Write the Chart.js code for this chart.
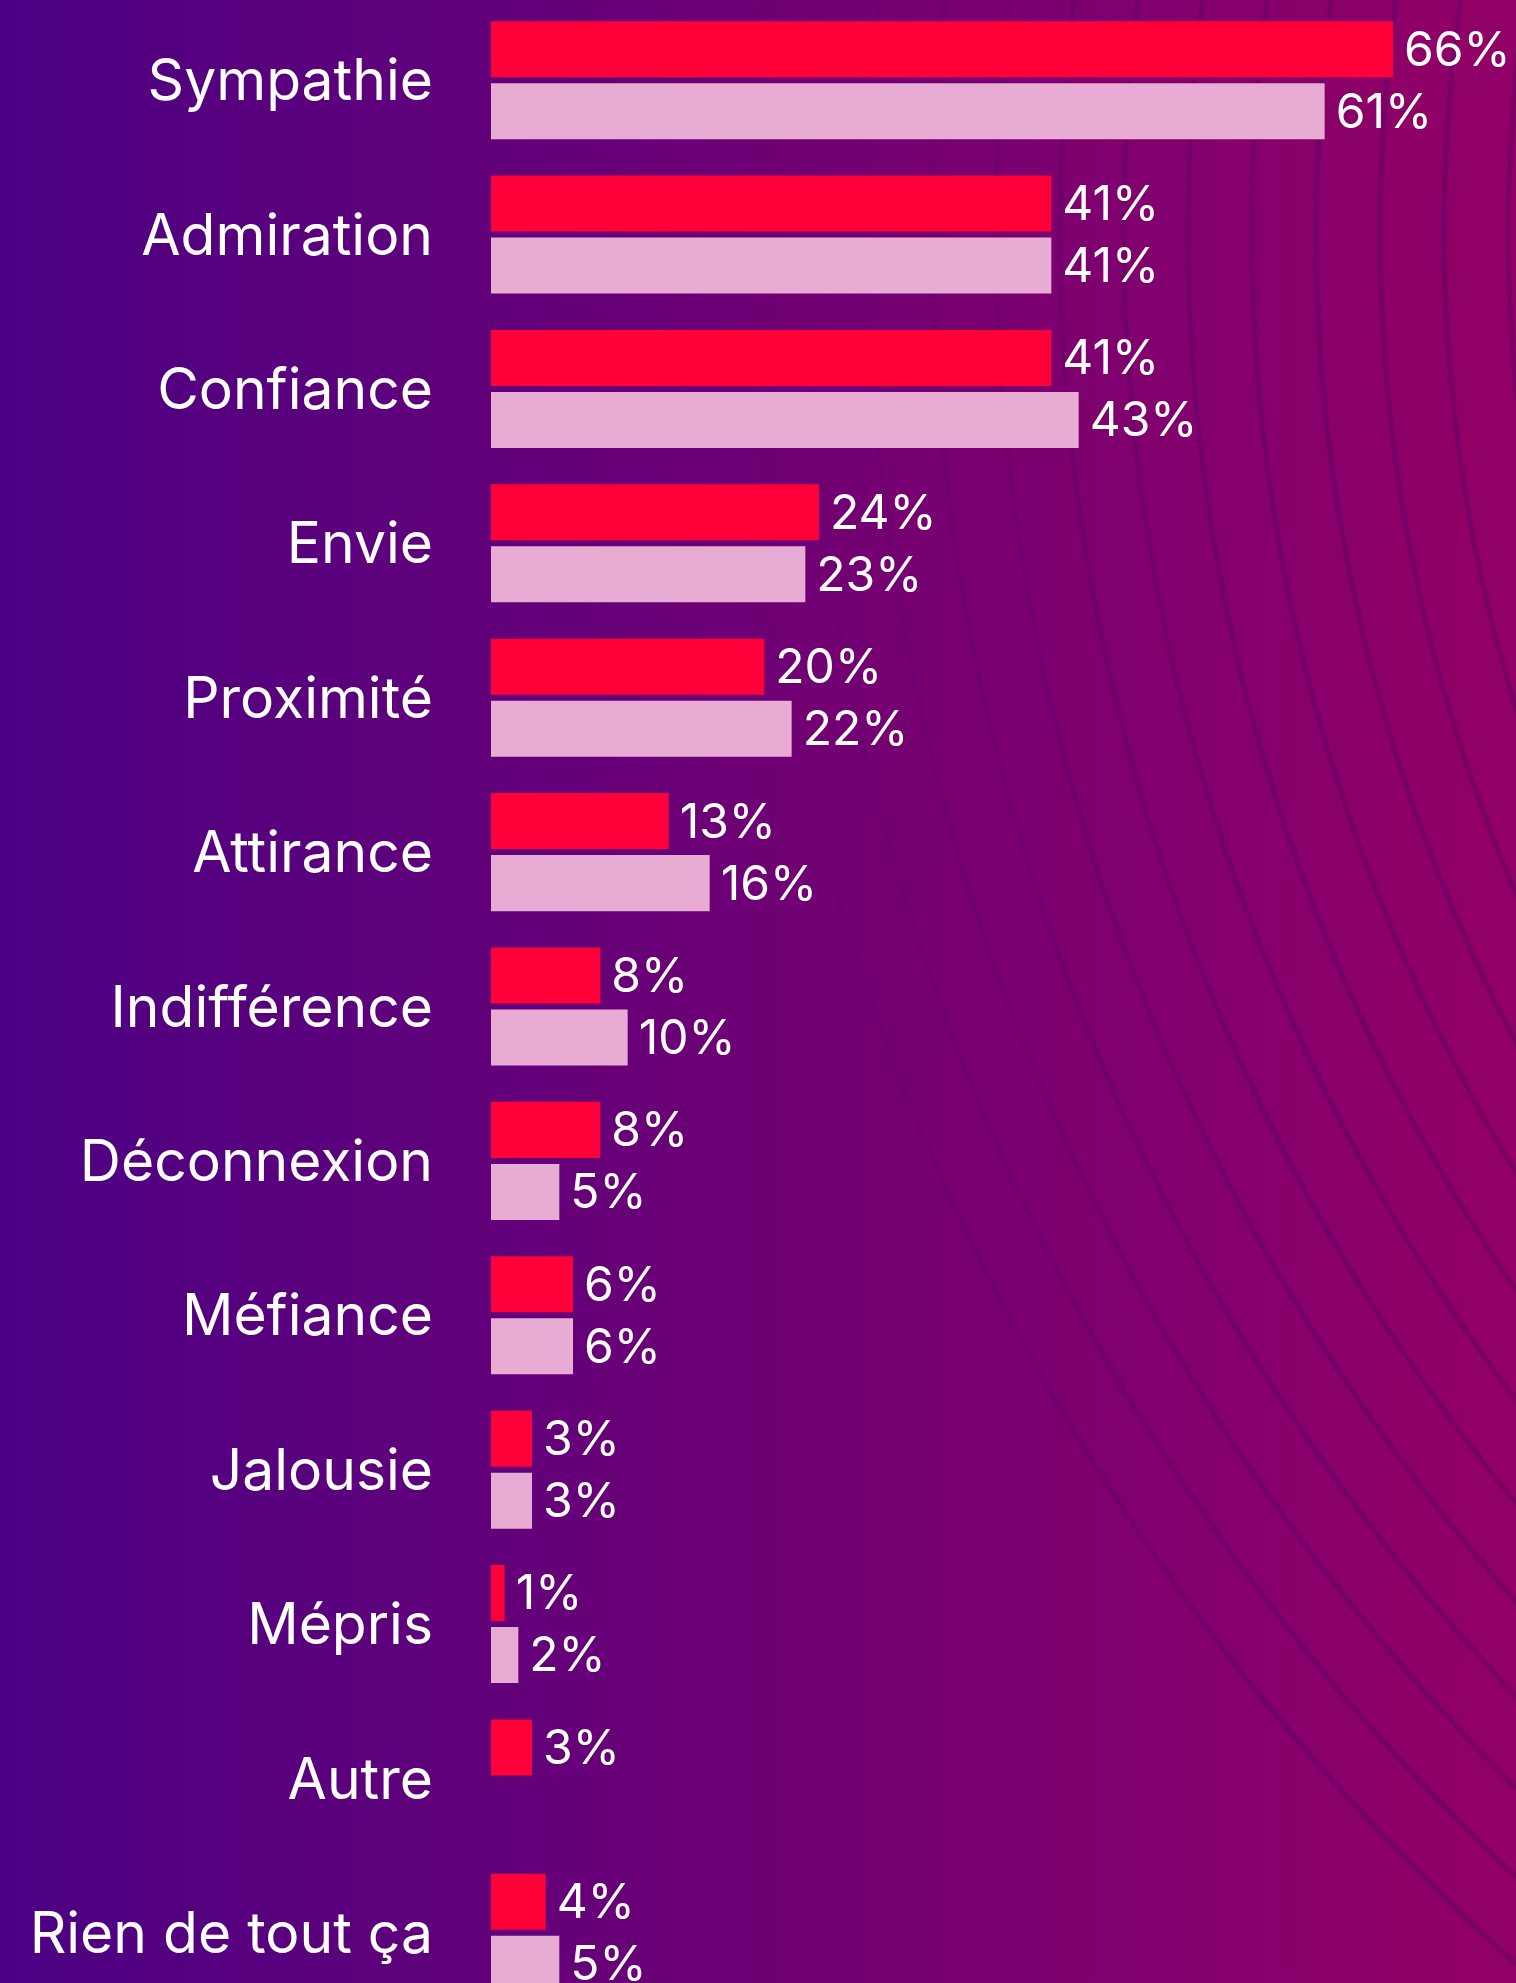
<!DOCTYPE html>
<html lang="fr">
<head>
<meta charset="utf-8">
<title>Sentiments</title>
<script src="https://cdn.jsdelivr.net/npm/chart.js@4/dist/chart.umd.min.js"></script>
<style>
  html, body { margin: 0; padding: 0; overflow: hidden; width: 1516px; height: 1983px;
    background: linear-gradient(90deg, #4b0083 0%, #920066 100%); }
  canvas { display: block; position: absolute; left: 0; top: 0; }
</style>
</head>
<body>
<canvas id="c" width="1516" height="2010"></canvas>
<script>
const categories = ["Sympathie", "Admiration", "Confiance", "Envie", "Proximité", "Attirance",
  "Indifférence", "Déconnexion", "Méfiance", "Jalousie", "Mépris", "Autre", "Rien de tout ça"];
const seriesA = [66, 41, 41, 24, 20, 13, 8, 8, 6, 3, 1, 3, 4];
const seriesB = [61, 41, 43, 23, 22, 16, 10, 5, 6, 3, 2, null, 5];
const seriesNames = ["Série 1", "Série 2"];
const xMax = 75;

const bgPlugin = {
  id: 'bg',
  beforeDraw(chart) {
    const ctx = chart.ctx, w = chart.width, h = chart.height;
    ctx.save();
    const g = ctx.createLinearGradient(0, 0, w, 0);
    g.addColorStop(0, '#4b0083');
    g.addColorStop(1, '#920066');
    ctx.fillStyle = g;
    ctx.fillRect(0, 0, w, h);
    const sg = ctx.createLinearGradient(700, 0, 1300, 0);
    sg.addColorStop(0, 'rgba(60,0,100,0)');
    sg.addColorStop(1, 'rgba(60,0,100,0.36)');
    ctx.strokeStyle = sg;
    ctx.lineWidth = 4;
    ctx.filter = 'blur(0.8px)';
    for (let r = 1552; r <= 2330; r += 64) {
      ctx.beginPath();
      ctx.arc(3060, 232, r, 0, Math.PI * 2);
      ctx.stroke();
    }
    ctx.restore();
  }
};

const valueLabels = {
  id: 'valueLabels',
  afterDatasetsDraw(chart) {
    const ctx = chart.ctx;
    ctx.save();
    ctx.fillStyle = '#ffffff';
    ctx.font = '400 48px Inter';
    ctx.textAlign = 'left';
    ctx.textBaseline = 'middle';
    chart.data.datasets.forEach((ds, di) => {
      const meta = chart.getDatasetMeta(di);
      meta.data.forEach((bar, i) => {
        const v = ds.data[i];
        if (v === null || v === undefined) return;
        ctx.fillText(v + '%', bar.x + 11, bar.y + 2);
      });
    });
    ctx.restore();
  }
};

new Chart(document.getElementById('c'), {
  type: 'bar',
  data: {
    labels: categories,
    datasets: [
      { label: seriesNames[0], data: seriesA, backgroundColor: '#ff0038',
        categoryPercentage: 0.8035, barPercentage: 0.903 },
      { label: seriesNames[1], data: seriesB, backgroundColor: '#e8abd4',
        categoryPercentage: 0.8035, barPercentage: 0.903 }
    ]
  },
  options: {
    indexAxis: 'y',
    responsive: false,
    animation: false,
    devicePixelRatio: 1,
    layout: { padding: { top: 3, right: 0, bottom: 0, left: 0 } },
    plugins: { legend: { display: false }, tooltip: { enabled: false } },
    scales: {
      x: { display: false, min: 0, max: xMax },
      y: {
        grid: { display: false, drawTicks: false },
        border: { display: false },
        ticks: { color: '#ffffff', padding: 58, labelOffset: 3, font: { family: 'Inter', size: 57 } },
        afterFit(scale) {
          scale.width = 491;
          scale.paddingTop = 0;
          scale.paddingBottom = 0;
        }
      }
    }
  },
  plugins: [bgPlugin, valueLabels]
});
</script>
</body>
</html>
